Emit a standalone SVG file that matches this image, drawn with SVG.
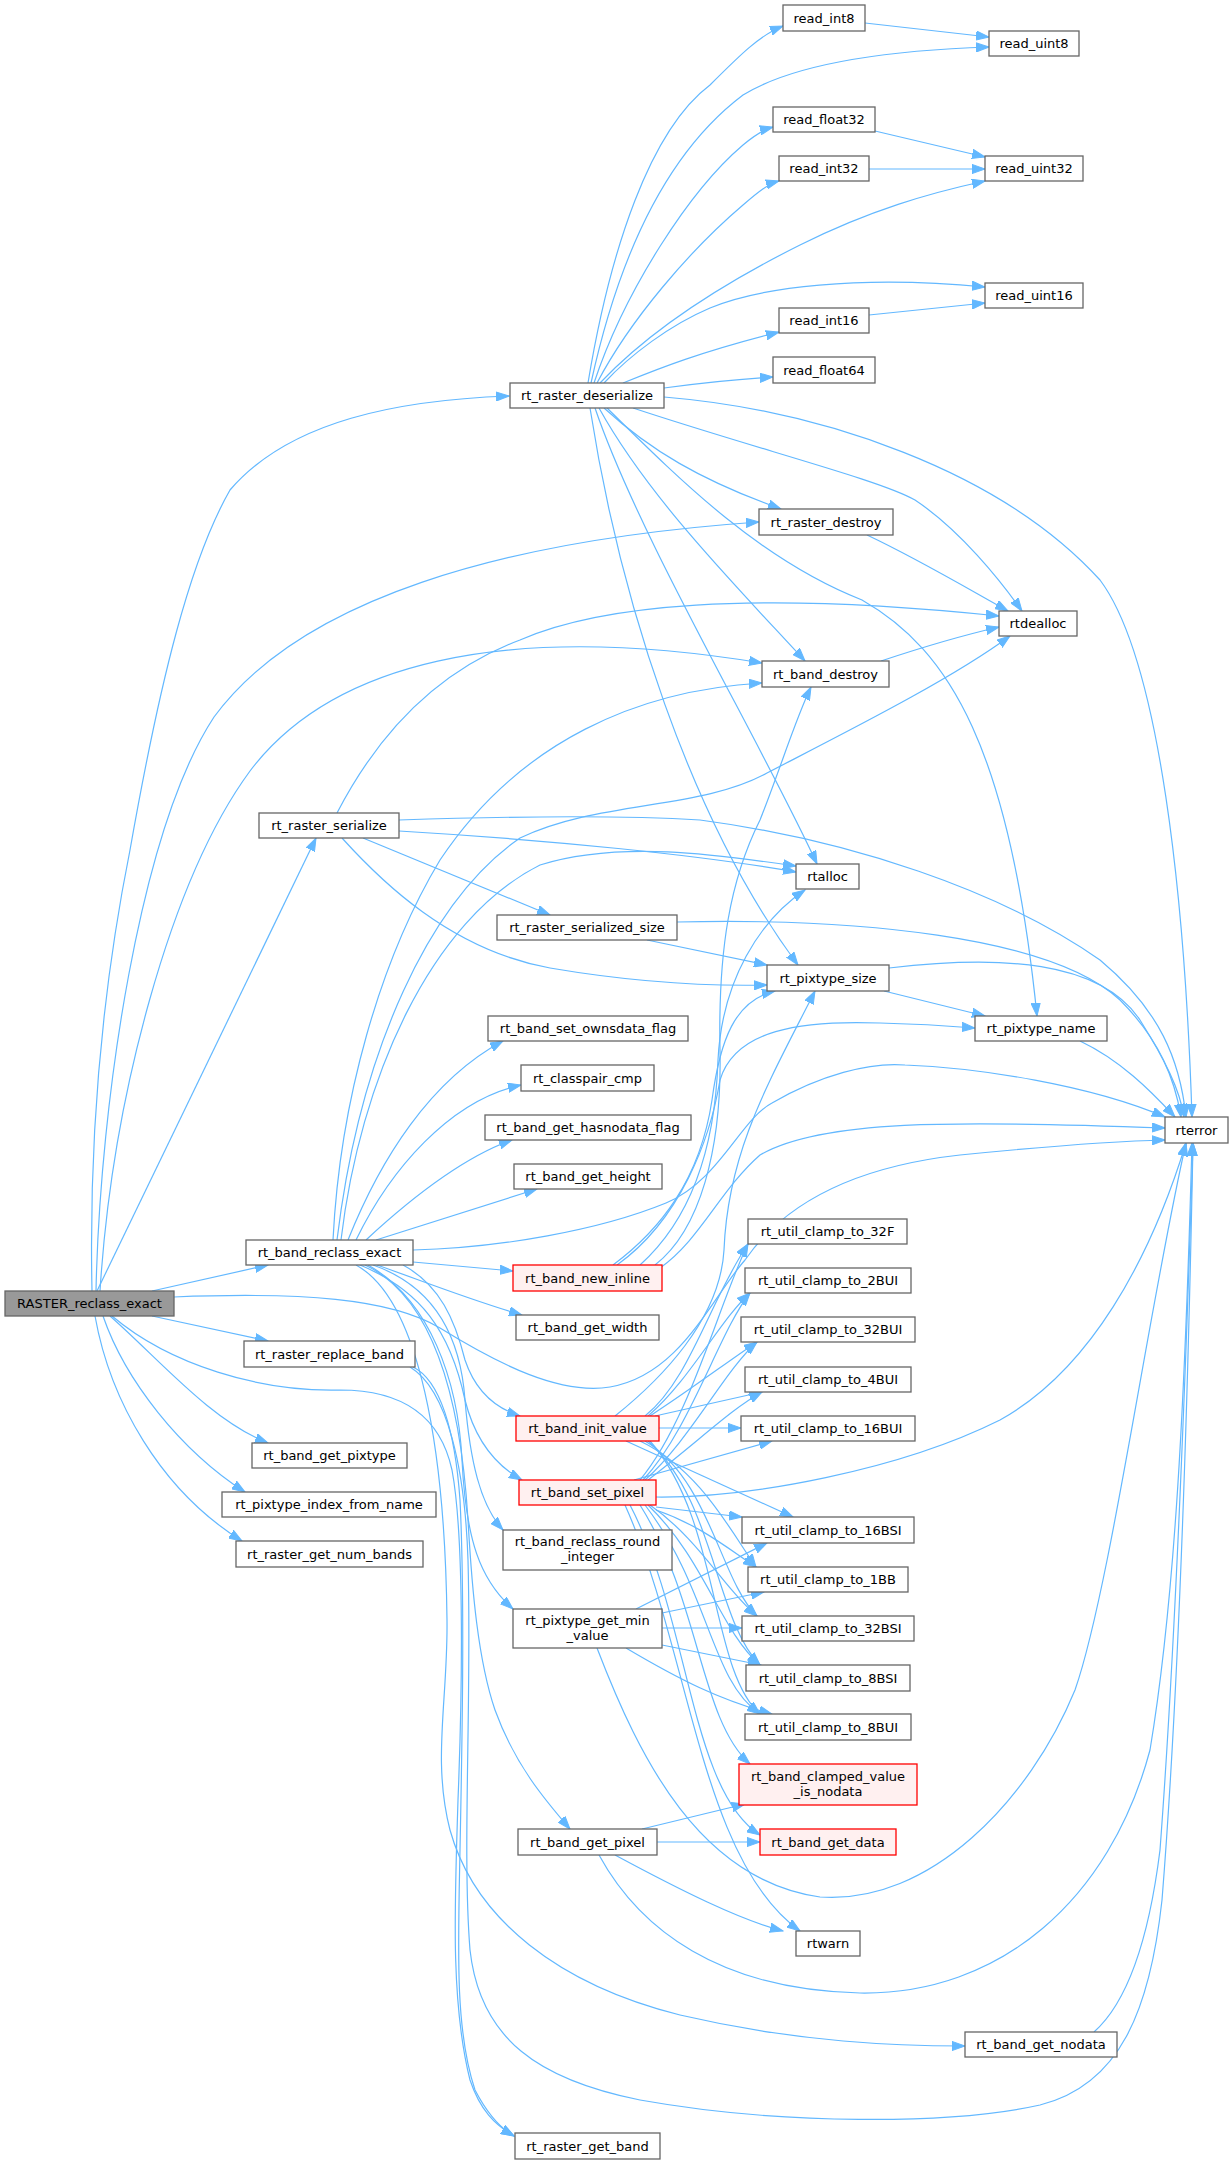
<svg xmlns="http://www.w3.org/2000/svg" width="1229" height="2164" viewBox="0 0 1229 2164">
<defs>
<style>
.n rect{fill:#ffffff;stroke:#666666;stroke-width:1.3}
.r rect{fill:#fff0f0;stroke:#ff0000;stroke-width:1.3}
.root rect{fill:#999999;stroke:#666666;stroke-width:1.3}
text{font-family:"DejaVu Sans","Liberation Sans",sans-serif;font-size:13px;fill:#000000;text-anchor:middle}
#edges path{fill:none;stroke:#63b8ff;stroke-width:1.2;marker-end:url(#a)}
</style>
<marker id="a" markerUnits="userSpaceOnUse" markerWidth="14" markerHeight="10" refX="13" refY="5" orient="auto">
<path d="M0,0.4 L13,5 L0,9.6 z" fill="#63b8ff" stroke="#63b8ff" stroke-width="1"/>
</marker>
</defs>
<rect x="0" y="0" width="1229" height="2164" fill="#ffffff"/>
<g id="edges">
<path d="M92,1291 C88,1100 110,950 130,850 C160,680 190,560 230,490 C290,420 400,400 509,396"/>
<path d="M96,1291 C100,1100 140,830 214,717 C300,600 500,540 759,522"/>
<path d="M100,1291 C112,1100 170,880 250,771 C330,665 500,620 762,663"/>
<path d="M97,1291 L316,838"/>
<path d="M152,1291 L268,1265"/>
<path d="M152,1316 L268,1341"/>
<path d="M110,1316 C160,1360 210,1420 268,1443"/>
<path d="M103,1316 C125,1380 180,1450 245,1492"/>
<path d="M95,1316 C110,1400 160,1490 242,1541"/>
<path d="M174,1297 C300,1292 390,1298 440,1328 C500,1365 560,1395 610,1387 C680,1375 710,1300 745,1260 C790,1195 870,1165 960,1155 C1050,1146 1120,1141 1165,1140"/>
<path d="M112,1316 C170,1365 260,1392 340,1390 C400,1390 440,1415 452,1470 C465,1540 462,1700 458,1800 C455,1900 450,2000 470,2080 C480,2110 495,2125 514,2136"/>
<path d="M588,383 C610,250 650,130 710,85 C740,55 760,35 783,26"/>
<path d="M591,383 C620,250 670,150 743,95 C800,60 900,50 989,47"/>
<path d="M594,383 C625,290 690,190 743,145 C755,135 765,129 773,127"/>
<path d="M597,383 C630,320 690,250 743,205 C758,192 768,184 779,181"/>
<path d="M600,383 C650,330 720,285 800,245 C870,210 930,193 985,181"/>
<path d="M604,383 C630,355 670,325 710,308 C760,287 860,275 985,287"/>
<path d="M623,383 C660,368 700,352 779,332"/>
<path d="M664,388 C700,383 740,379 773,377"/>
<path d="M664,397 C820,410 1000,470 1100,580 C1160,660 1185,900 1192,1117"/>
<path d="M633,408 C760,450 880,480 915,500 C960,530 1000,580 1022,611"/>
<path d="M604,408 C650,450 700,480 781,509"/>
<path d="M599,408 C650,500 740,590 805,661"/>
<path d="M595,408 C640,540 760,740 817,864"/>
<path d="M590,408 C620,600 690,820 798,965"/>
<path d="M607,408 C680,480 760,560 862,600 C950,650 1010,750 1037,1016"/>
<path d="M867,535 C920,560 970,590 1008,611"/>
<path d="M881,661 C920,648 960,636 999,627"/>
<path d="M865,23 L989,37"/>
<path d="M875,131 L985,157"/>
<path d="M869,169 L985,169"/>
<path d="M869,315 L985,303"/>
<path d="M337,813 C380,730 440,670 520,640 C600,605 750,590 999,616"/>
<path d="M399,831 C550,840 700,855 796,872"/>
<path d="M399,820 C520,816 620,815 700,820 C850,840 1000,890 1100,960 C1160,1010 1180,1060 1186,1117"/>
<path d="M363,838 L550,915"/>
<path d="M342,838 C380,880 450,950 550,968 C650,985 720,986 767,985"/>
<path d="M677,922 C850,918 1050,935 1120,1000 C1160,1040 1175,1080 1181,1117"/>
<path d="M647,940 L767,965"/>
<path d="M889,968 C1000,955 1100,960 1140,1020 C1165,1060 1180,1090 1184,1117"/>
<path d="M884,991 L985,1016"/>
<path d="M1080,1041 C1120,1060 1150,1090 1175,1117"/>
<path d="M333,1240 C340,1100 380,960 440,860 C520,740 640,690 762,683"/>
<path d="M337,1240 C360,1050 430,900 520,838 C600,800 700,810 767,773 C850,730 950,680 1010,636"/>
<path d="M341,1240 C360,1080 430,920 540,865 C620,840 720,855 796,866"/>
<path d="M348,1240 C380,1160 430,1080 503,1041"/>
<path d="M356,1240 C390,1170 450,1100 521,1085"/>
<path d="M366,1240 C420,1190 470,1155 512,1140"/>
<path d="M376,1240 L537,1189"/>
<path d="M413,1250 C500,1248 600,1230 666,1203 C720,1180 740,1120 772,1103 C820,1075 870,1062 905,1065 C980,1068 1090,1085 1165,1117"/>
<path d="M413,1262 L513,1271"/>
<path d="M377,1265 C420,1280 470,1300 522,1315"/>
<path d="M403,1265 C440,1285 455,1320 465,1360 C475,1390 495,1408 520,1416"/>
<path d="M360,1265 C420,1290 450,1330 465,1400 C475,1440 495,1465 522,1480"/>
<path d="M373,1265 C430,1285 460,1330 465,1400 C470,1460 480,1505 503,1530"/>
<path d="M368,1265 C430,1300 458,1380 462,1460 C466,1540 480,1580 513,1609"/>
<path d="M365,1265 C440,1300 462,1420 468,1520 C472,1590 478,1660 495,1710 C515,1765 545,1800 570,1829"/>
<path d="M356,1265 C420,1300 445,1450 447,1620 C448,1700 432,1760 450,1830 C475,1920 560,1985 680,2015 C800,2043 900,2046 965,2046"/>
<path d="M413,1367 C440,1380 455,1430 460,1500 C465,1600 462,1750 460,1850 C458,1950 455,2030 475,2090 C488,2115 500,2128 514,2136"/>
<path d="M410,1367 C448,1390 465,1470 468,1560 C472,1700 462,1850 470,1950 C480,2040 540,2080 640,2100 C780,2125 950,2125 1040,2105 C1120,2085 1150,2010 1162,1900 C1178,1700 1188,1400 1193,1143"/>
<path d="M613,1265 C660,1230 700,1180 712,1100 C720,1040 735,1000 775,991"/>
<path d="M617,1265 C680,1220 710,1140 720,1080 C735,1030 800,1020 880,1023 C920,1024 950,1026 975,1028"/>
<path d="M640,1265 C690,1220 715,1150 718,1060 C722,980 760,920 805,890"/>
<path d="M655,1265 C700,1230 722,1150 720,1050 C718,950 730,880 760,820 C780,770 795,720 811,687"/>
<path d="M660,1268 C700,1240 720,1190 760,1155 C820,1120 950,1120 1165,1128"/>
<path d="M615,1416 C660,1380 720,1320 724,1250 C728,1150 770,1080 815,991"/>
<path d="M645,1416 C690,1380 710,1300 748,1244"/>
<path d="M648,1416 C690,1380 720,1320 750,1293"/>
<path d="M650,1416 C690,1390 730,1360 757,1342"/>
<path d="M655,1416 L762,1392"/>
<path d="M659,1428 L741,1428"/>
<path d="M626,1441 L793,1517"/>
<path d="M640,1441 C700,1470 730,1530 756,1567"/>
<path d="M645,1441 C710,1480 720,1580 757,1616"/>
<path d="M648,1441 C715,1500 715,1620 760,1665"/>
<path d="M650,1441 C720,1520 710,1670 760,1714"/>
<path d="M640,1480 C690,1420 720,1300 748,1244"/>
<path d="M643,1480 C690,1430 720,1330 750,1293"/>
<path d="M645,1480 C690,1440 725,1370 757,1342"/>
<path d="M648,1480 C700,1440 730,1410 762,1392"/>
<path d="M634,1480 L772,1441"/>
<path d="M656,1507 L742,1517"/>
<path d="M656,1510 C700,1525 730,1550 756,1567"/>
<path d="M650,1505 C700,1540 725,1590 757,1616"/>
<path d="M648,1505 C705,1560 720,1630 760,1665"/>
<path d="M645,1505 C710,1590 710,1680 760,1714"/>
<path d="M640,1505 C700,1600 700,1720 750,1764"/>
<path d="M630,1505 C690,1620 690,1790 760,1835"/>
<path d="M625,1505 C690,1650 700,1860 800,1931"/>
<path d="M656,1497 C750,1498 900,1470 1000,1420 C1090,1370 1150,1260 1186,1143"/>
<path d="M636,1609 L767,1543"/>
<path d="M662,1613 L764,1592"/>
<path d="M662,1628 L742,1628"/>
<path d="M662,1645 L761,1665"/>
<path d="M626,1648 C680,1680 720,1700 772,1714"/>
<path d="M597,1648 C640,1760 700,1880 820,1897 C930,1905 1030,1800 1075,1690 C1110,1590 1150,1300 1186,1143"/>
<path d="M642,1829 L745,1804"/>
<path d="M657,1842 L760,1842"/>
<path d="M615,1855 C680,1890 740,1920 783,1931"/>
<path d="M599,1855 C640,1930 720,1990 860,1993 C1000,1995 1110,1900 1150,1750 C1175,1600 1185,1400 1192,1143"/>
<path d="M1094,2032 C1130,2000 1150,1930 1160,1850 C1175,1650 1185,1400 1193,1143"/>
</g>
<g id="RASTER_reclass_exact" class="root"><rect x="5" y="1291" width="169" height="25"/><text x="89.5" y="1308">RASTER_reclass_exact</text></g>
<g id="rt_raster_deserialize" class="n"><rect x="510" y="383" width="154" height="25"/><text x="587" y="400">rt_raster_deserialize</text></g>
<g id="read_int8" class="n"><rect x="783" y="5" width="82" height="26"/><text x="824" y="22.5">read_int8</text></g>
<g id="read_uint8" class="n"><rect x="989" y="31" width="90" height="25"/><text x="1034" y="48">read_uint8</text></g>
<g id="read_float32" class="n"><rect x="773" y="107" width="102" height="25"/><text x="824" y="124">read_float32</text></g>
<g id="read_int32" class="n"><rect x="779" y="156" width="90" height="25"/><text x="824" y="173">read_int32</text></g>
<g id="read_uint32" class="n"><rect x="985" y="156" width="98" height="25"/><text x="1034" y="173">read_uint32</text></g>
<g id="read_uint16" class="n"><rect x="985" y="283" width="98" height="25"/><text x="1034" y="300">read_uint16</text></g>
<g id="read_int16" class="n"><rect x="779" y="308" width="90" height="25"/><text x="824" y="325">read_int16</text></g>
<g id="read_float64" class="n"><rect x="773" y="357" width="102" height="26"/><text x="824" y="374.5">read_float64</text></g>
<g id="rt_raster_destroy" class="n"><rect x="759" y="509" width="134" height="26"/><text x="826" y="526.5">rt_raster_destroy</text></g>
<g id="rtdealloc" class="n"><rect x="999" y="611" width="78" height="25"/><text x="1038" y="628">rtdealloc</text></g>
<g id="rt_band_destroy" class="n"><rect x="762" y="661" width="127" height="26"/><text x="825.5" y="678.5">rt_band_destroy</text></g>
<g id="rt_raster_serialize" class="n"><rect x="259" y="813" width="140" height="25"/><text x="329" y="830">rt_raster_serialize</text></g>
<g id="rtalloc" class="n"><rect x="796" y="864" width="63" height="25"/><text x="827.5" y="881">rtalloc</text></g>
<g id="rt_raster_serialized_size" class="n"><rect x="497" y="915" width="180" height="25"/><text x="587" y="932">rt_raster_serialized_size</text></g>
<g id="rt_pixtype_size" class="n"><rect x="767" y="965" width="122" height="26"/><text x="828" y="982.5">rt_pixtype_size</text></g>
<g id="rt_pixtype_name" class="n"><rect x="975" y="1016" width="132" height="25"/><text x="1041" y="1033">rt_pixtype_name</text></g>
<g id="rt_band_set_ownsdata_flag" class="n"><rect x="488" y="1016" width="200" height="25"/><text x="588" y="1033">rt_band_set_ownsdata_flag</text></g>
<g id="rt_classpair_cmp" class="n"><rect x="521" y="1065" width="133" height="26"/><text x="587.5" y="1082.5">rt_classpair_cmp</text></g>
<g id="rt_band_get_hasnodata_flag" class="n"><rect x="485" y="1115" width="206" height="25"/><text x="588" y="1132">rt_band_get_hasnodata_flag</text></g>
<g id="rterror" class="n"><rect x="1165" y="1117" width="63" height="26"/><text x="1196.5" y="1134.5">rterror</text></g>
<g id="rt_band_get_height" class="n"><rect x="514" y="1164" width="148" height="25"/><text x="588" y="1181">rt_band_get_height</text></g>
<g id="rt_util_clamp_to_32F" class="n"><rect x="748" y="1219" width="159" height="25"/><text x="827.5" y="1236">rt_util_clamp_to_32F</text></g>
<g id="rt_band_reclass_exact" class="n"><rect x="246" y="1240" width="167" height="25"/><text x="329.5" y="1257">rt_band_reclass_exact</text></g>
<g id="rt_band_new_inline" class="r"><rect x="513" y="1265" width="149" height="26"/><text x="587.5" y="1282.5">rt_band_new_inline</text></g>
<g id="rt_util_clamp_to_2BUI" class="n"><rect x="745" y="1268" width="166" height="25"/><text x="828" y="1285">rt_util_clamp_to_2BUI</text></g>
<g id="rt_band_get_width" class="n"><rect x="516" y="1315" width="143" height="25"/><text x="587.5" y="1332">rt_band_get_width</text></g>
<g id="rt_util_clamp_to_32BUI" class="n"><rect x="741" y="1317" width="174" height="25"/><text x="828" y="1334">rt_util_clamp_to_32BUI</text></g>
<g id="rt_raster_replace_band" class="n"><rect x="244" y="1341" width="171" height="26"/><text x="329.5" y="1358.5">rt_raster_replace_band</text></g>
<g id="rt_util_clamp_to_4BUI" class="n"><rect x="745" y="1367" width="166" height="25"/><text x="828" y="1384">rt_util_clamp_to_4BUI</text></g>
<g id="rt_band_init_value" class="r"><rect x="516" y="1416" width="143" height="25"/><text x="587.5" y="1433">rt_band_init_value</text></g>
<g id="rt_util_clamp_to_16BUI" class="n"><rect x="741" y="1416" width="174" height="25"/><text x="828" y="1433">rt_util_clamp_to_16BUI</text></g>
<g id="rt_band_get_pixtype" class="n"><rect x="252" y="1443" width="155" height="25"/><text x="329.5" y="1460">rt_band_get_pixtype</text></g>
<g id="rt_band_set_pixel" class="r"><rect x="519" y="1480" width="137" height="25"/><text x="587.5" y="1497">rt_band_set_pixel</text></g>
<g id="rt_pixtype_index_from_name" class="n"><rect x="222" y="1492" width="214" height="25"/><text x="329" y="1509">rt_pixtype_index_from_name</text></g>
<g id="rt_util_clamp_to_16BSI" class="n"><rect x="742" y="1517" width="172" height="26"/><text x="828" y="1534.5">rt_util_clamp_to_16BSI</text></g>
<g id="rt_band_reclass_round_integer" class="n"><rect x="503" y="1530" width="169" height="40"/><text x="587.5" y="1546">rt_band_reclass_round</text><text x="587.5" y="1561">_integer</text></g>
<g id="rt_raster_get_num_bands" class="n"><rect x="236" y="1541" width="187" height="26"/><text x="329.5" y="1558.5">rt_raster_get_num_bands</text></g>
<g id="rt_util_clamp_to_1BB" class="n"><rect x="748" y="1567" width="160" height="25"/><text x="828" y="1584">rt_util_clamp_to_1BB</text></g>
<g id="rt_pixtype_get_min_value" class="n"><rect x="513" y="1609" width="149" height="39"/><text x="587.5" y="1625">rt_pixtype_get_min</text><text x="587.5" y="1640">_value</text></g>
<g id="rt_util_clamp_to_32BSI" class="n"><rect x="742" y="1616" width="172" height="25"/><text x="828" y="1633">rt_util_clamp_to_32BSI</text></g>
<g id="rt_util_clamp_to_8BSI" class="n"><rect x="746" y="1665" width="164" height="26"/><text x="828" y="1682.5">rt_util_clamp_to_8BSI</text></g>
<g id="rt_util_clamp_to_8BUI" class="n"><rect x="745" y="1714" width="166" height="26"/><text x="828" y="1731.5">rt_util_clamp_to_8BUI</text></g>
<g id="rt_band_clamped_value_is_nodata" class="r"><rect x="739" y="1764" width="178" height="41"/><text x="828" y="1781">rt_band_clamped_value</text><text x="828" y="1796">_is_nodata</text></g>
<g id="rt_band_get_pixel" class="n"><rect x="518" y="1829" width="139" height="26"/><text x="587.5" y="1846.5">rt_band_get_pixel</text></g>
<g id="rt_band_get_data" class="r"><rect x="760" y="1829" width="136" height="26"/><text x="828" y="1846.5">rt_band_get_data</text></g>
<g id="rtwarn" class="n"><rect x="796" y="1931" width="64" height="25"/><text x="828" y="1948">rtwarn</text></g>
<g id="rt_band_get_nodata" class="n"><rect x="965" y="2032" width="152" height="25"/><text x="1041" y="2049">rt_band_get_nodata</text></g>
<g id="rt_raster_get_band" class="n"><rect x="515" y="2133" width="145" height="26"/><text x="587.5" y="2150.5">rt_raster_get_band</text></g>
</svg>
